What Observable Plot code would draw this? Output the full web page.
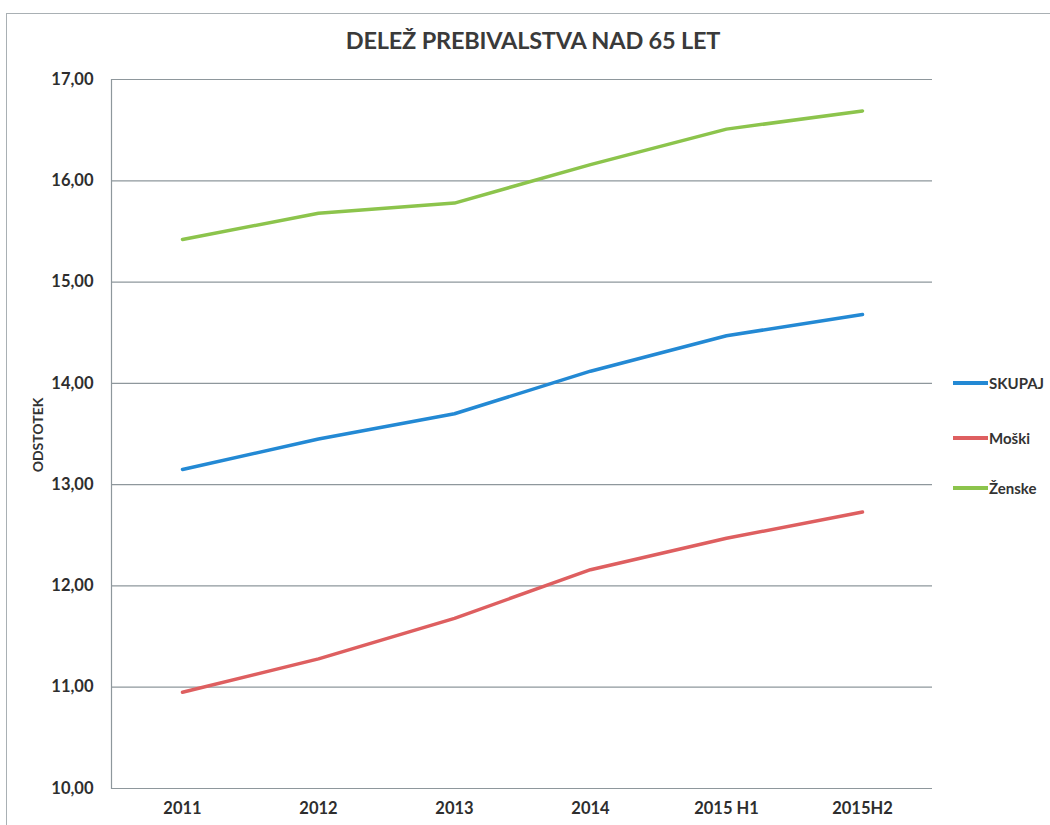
<!DOCTYPE html>
<html>
<head>
<meta charset="utf-8">
<script src="https://cdn.jsdelivr.net/npm/d3@7"></script>
<script src="https://cdn.jsdelivr.net/npm/@observablehq/plot@0.6"></script>
<style>
  html, body { margin: 0; padding: 0; background: #fff; }
  #wrap { position: relative; width: 1050px; height: 825px; overflow: hidden; font-family: Lato, "Open Sans", sans-serif; }
  #border { position: absolute; left: 6px; top: 13px; width: 1200px; height: 1000px; border-left: 1.5px solid #a9b0b4; border-top: 1.5px solid #a9b0b4; }
  #title { position: absolute; left: 233px; width: 600px; top: 26px; text-align: center; font-weight: bold; font-size: 23.5px; color: #3a3a3a; letter-spacing: -0.2px; }
  #ytitle { position: absolute; left: 37px; top: 435px; transform: translate(-50%, -50%) rotate(-90deg); font-weight: bold; font-size: 14px; color: #333; white-space: nowrap; }
  #legend { position: absolute; left: 953px; top: 0; }
  .li { position: absolute; left: 0; display: flex; align-items: center; white-space: nowrap; font-weight: bold; font-size: 15px; color: #333; transform: translateY(-50%); }
  .sw { width: 35px; height: 3.5px; margin-right: 1px; }
  #chart { position: absolute; left: 0; top: 0; }
</style>
</head>
<body>
<div id="wrap">
  <div id="border"></div>
  <div id="chart"></div>
  <div id="title">DELEŽ PREBIVALSTVA NAD 65 LET</div>
  <div id="ytitle">ODSTOTEK</div>
  <div id="legend"></div>
</div>
<script>
const categories = ["2011", "2012", "2013", "2014", "2015 H1", "2015H2"];
const seriesNames = ["SKUPAJ", "Moški", "Ženske"];
const skupaj = [13.15, 13.45, 13.70, 14.12, 14.47, 14.68];
const moski  = [10.95, 11.28, 11.68, 12.16, 12.47, 12.73];
const zenske = [15.42, 15.68, 15.78, 16.16, 16.51, 16.69];
const yTicks = [10, 11, 12, 13, 14, 15, 16, 17];

const seriesColors = ["#2389d4", "#de5f60", "#8cc44c"];
const seriesValues = [skupaj, moski, zenske];

const data = [];
seriesNames.forEach((s, i) => {
  categories.forEach((c, j) => data.push({series: s, cat: c, value: seriesValues[i][j]}));
});

const fmt = d => d.toFixed(2).replace(".", ",");

const chart = Plot.plot({
  width: 1050,
  height: 825,
  marginLeft: 111,
  marginRight: 118,
  marginTop: 79,
  marginBottom: 37,
  style: {fontFamily: "Lato, 'Open Sans', sans-serif", fontSize: "16.5px", fontWeight: "bold", color: "#2e2e2e", background: "transparent"},
  x: {type: "point", domain: categories, padding: 0.5, label: null},
  y: {domain: [10, 17], label: null},
  color: {domain: seriesNames, range: seriesColors},
  marks: [
    Plot.gridY(yTicks, {stroke: "#8e979c", strokeOpacity: 1, strokeWidth: 1.2}),
    Plot.frame({anchor: "left", stroke: "#8e979c", strokeWidth: 1.2}),
    Plot.axisY(yTicks, {tickSize: 0, tickPadding: 18, tickFormat: fmt, label: null}),
    Plot.axisX({tickSize: 0, tickPadding: 14, label: null}),
    Plot.line(data, {x: "cat", y: "value", z: "series", stroke: "series", strokeWidth: 3.5, strokeLinecap: "round", strokeLinejoin: "round"})
  ]
});
document.getElementById("chart").appendChild(chart);

const legendY = [383, 438, 488];
const legend = document.getElementById("legend");
seriesNames.forEach((s, i) => {
  const d = document.createElement("div");
  d.className = "li";
  d.style.top = legendY[i] + "px";
  d.innerHTML = `<span class="sw" style="background:${seriesColors[i]}"></span><span>${s}</span>`;
  legend.appendChild(d);
});
</script>
</body>
</html>
